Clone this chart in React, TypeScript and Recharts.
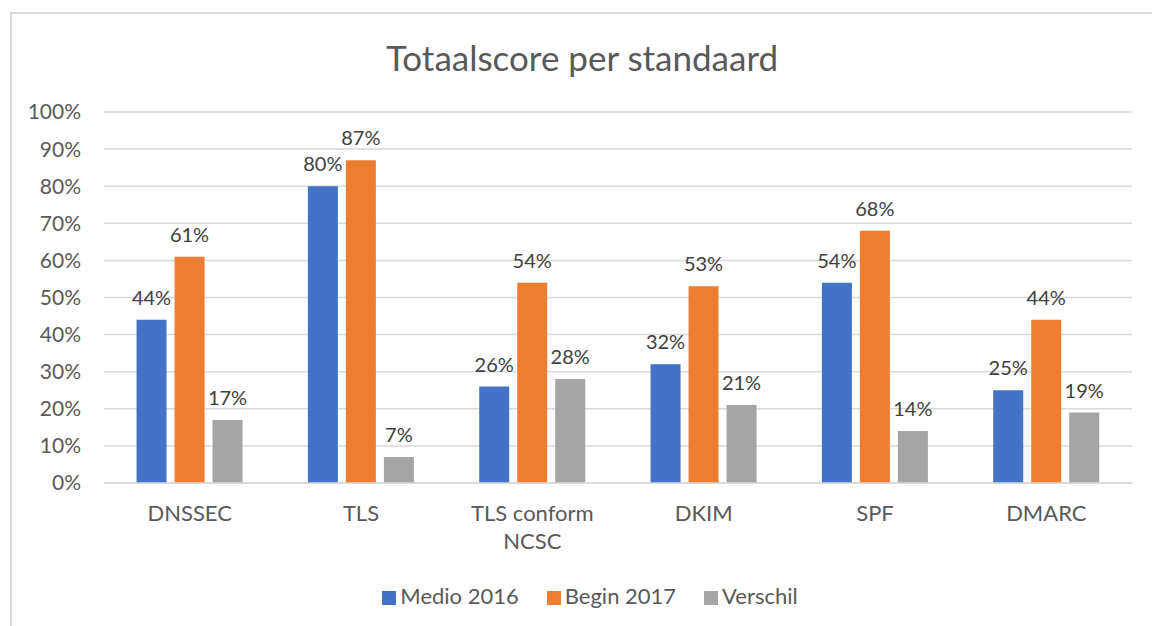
import { BarChart, Bar, XAxis, YAxis, CartesianGrid, Legend, LabelList } from 'recharts';

const standards = ['DNSSEC', 'TLS', 'TLS conform NCSC', 'DKIM', 'SPF', 'DMARC'];
const medio2016 = [44, 80, 26, 32, 54, 25];
const begin2017 = [61, 87, 54, 53, 68, 44];
const verschil = [17, 7, 28, 21, 14, 19];
const yTicks = [0, 10, 20, 30, 40, 50, 60, 70, 80, 90, 100];
const seriesOrder = ['medio', 'begin', 'verschil'];

const chartData = standards.map((name, i) => ({
  name,
  medio: medio2016[i],
  begin: begin2017[i],
  verschil: verschil[i],
}));

const FONT = 'Lato, "Open Sans", sans-serif';

// simple word wrap, like the category axis in the original
function wrapLabel(label: string, maxChars: number) {
  const lines: string[] = [];
  let cur = '';
  for (const w of label.split(' ')) {
    const next = cur ? `${cur} ${w}` : w;
    if (next.length > maxChars && cur) {
      lines.push(cur);
      cur = w;
    } else {
      cur = next;
    }
  }
  if (cur) lines.push(cur);
  return lines;
}

function CategoryTick(props: any) {
  const { x, y, payload } = props;
  const lines = wrapLabel(String(payload.value), 11);
  return (
    <text x={x} y={y} textAnchor="middle" fill="#595959" fontSize={22} fontFamily={FONT}>
      {lines.map((l, i) => (
        <tspan key={i} x={x} dy={i === 0 ? 18 : 28}>
          {l}
        </tspan>
      ))}
    </text>
  );
}

export default function App() {
  const pct = (v: any) => `${v}%`;
  return (
    <div
      style={{
        position: 'absolute',
        left: 10,
        top: 12,
        width: 1150,
        height: 620,
        border: '2px solid #d9d9d9',
        background: '#fff',
        fontFamily: FONT,
      }}
    >
      <div
        style={{
          position: 'absolute',
          top: 22,
          left: 0,
          width: 1140,
          textAlign: 'center',
          fontSize: 35,
          color: '#595959',
        }}
      >
        Totaalscore per standaard
      </div>
      <BarChart
        width={1140}
        height={612}
        data={chartData}
        margin={{ top: 98, right: 20, left: 0, bottom: 0 }}
        barCategoryGap="19%"
        barGap={8}
      >
        <CartesianGrid vertical={false} stroke="#d9d9d9" strokeWidth={1.5} />
        <XAxis
          dataKey="name"
          axisLine={{ stroke: '#d9d9d9', strokeWidth: 1.5 }}
          tickLine={false}
          interval={0}
          height={70}
          tick={<CategoryTick />}
          tickMargin={14}
        />
        <YAxis
          width={92}
          domain={[0, 100]}
          ticks={yTicks}
          tickFormatter={pct}
          axisLine={false}
          tickLine={false}
          tickMargin={17}
          tick={{ fill: '#595959', fontSize: 21, fontFamily: FONT }}
        />
        <Legend
          verticalAlign="bottom"
          iconType="square"
          iconSize={14}
          height={73}
          itemSorter={(item: any) => seriesOrder.indexOf(item.dataKey)}
          wrapperStyle={{ top: 568, left: 32, fontSize: 22, color: '#595959' }}
          formatter={(value: any) => <span style={{ color: '#595959', marginRight: 18 }}>{value}</span>}
        />
        <Bar dataKey="medio" name="Medio 2016" fill="#4472c4" isAnimationActive={false}>
          <LabelList dataKey="medio" position="top" offset={15} formatter={pct} fill="#404040" fontSize={20} fontFamily={FONT} />
        </Bar>
        <Bar dataKey="begin" name="Begin 2017" fill="#ed7d31" isAnimationActive={false}>
          <LabelList dataKey="begin" position="top" offset={15} formatter={pct} fill="#404040" fontSize={20} fontFamily={FONT} />
        </Bar>
        <Bar dataKey="verschil" name="Verschil" fill="#a5a5a5" isAnimationActive={false}>
          <LabelList dataKey="verschil" position="top" offset={15} formatter={pct} fill="#404040" fontSize={20} fontFamily={FONT} />
        </Bar>
      </BarChart>
    </div>
  );
}
